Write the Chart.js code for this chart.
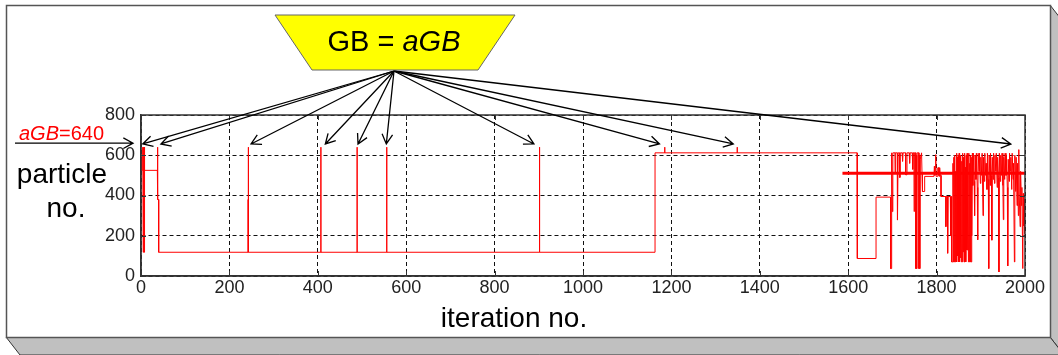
<!DOCTYPE html>
<html lang="en">
<head>
<meta charset="UTF-8">
<title>GB = aGB particle trace</title>
<script src="https://cdn.jsdelivr.net/npm/chart.js"></script>
<style>
  html, body { margin: 0; padding: 0; background: #fff; }
  #traceChart { display: block; }
</style>
</head>
<body>
<canvas id="traceChart" width="1058" height="355"></canvas>
<script>
  // [iteration, particle no.]: the long stable stretch
  const traceEarly = [
    [0,525],[0,590],[1,590],[1,525],[3,525],[4,640],[5,118],[6,640],[7,118],[8,640],[8,525],
    [37,525],[37,640],[38,640],[38,380],[40,380],[40,118],
    [242,118],[242,380],[243,380],[243,640],[243,118],
    [407,118],[407,640],[407,118],
    [489,118],[489,640],[489,118],
    [556,118],[556,640],[556,118],
    [901,118],[901,380],[902,380],[902,640],[902,118],
    [1163,118],[1163,612],[1185,612],[1185,640],[1185,612],
    [1349,612],[1349,640],[1349,612],
    [1620,612],[1620,345],[1621,345],[1621,87],[1663,87],[1663,392],[1696,392]
  ];

  // the noisy end of the run
  const traceLate = [
    [1696,37],[1697,37],[1697,392],[1699,392],[1699,612],[1700,320],[1701,612],
    [1706,612],[1706,510],[1707,612],[1711,612],[1711,353],[1712,278],[1713,612],
    [1716,612],[1716,490],[1718,490],[1718,612],[1722,612],[1723,570],[1724,612],
    [1730,612],[1730,503],[1733,503],[1733,612],[1738,612],[1739,560],[1740,612],
    [1745,612],[1746,530],[1747,612],[1749,612],[1749,320],[1750,612],
    [1753,612],[1753,37],[1754,600],[1755,37],[1756,612],[1760,612],[1760,37],
    [1761,600],[1762,37],[1763,580],[1766,612],[1767,510],[1768,420],[1773,420],
    [1773,495],[1794,495],[1795,545],[1796,500],[1797,545],[1798,603],[1799,495],
    [1802,495],[1803,538],[1804,500],[1805,540],[1806,495],[1807,538],[1808,500],
    [1810,500],[1810,395],[1821,395],[1821,245],[1822,395],[1825,395],[1825,113],
    [1826,395],[1831,395],[1832,200],[1833,395],[1834,70],
    [1836,70],[1837,560],[1838,70],[1839,590],[1840,70],[1841,600],[1842,70],
    [1843,520],[1844,80],[1845,610],[1846,70],[1847,590],[1848,100],[1849,600],
    [1850,70],[1851,610],[1852,70],[1853,588],[1854,90],[1855,600],[1856,70],
    [1857,570],[1858,70],[1859,610],[1860,120],[1861,590],[1862,70],[1863,610],
    [1864,70],[1865,540],[1866,70],[1867,600],[1868,130],[1869,610],[1870,128],
    [1871,580],[1872,70],[1873,610],[1874,70],[1875,560],[1876,70],[1877,600],
    [1878,70],[1879,590],[1880,200],[1881,610],
    [1882,450],[1883,610],[1885,470],[1886,300],[1887,600],[1889,480],[1890,610],
    [1892,440],[1893,180],[1894,610],[1896,520],[1897,610],[1899,460],[1900,590],
    [1902,500],[1903,610],[1905,300],[1906,590],[1908,470],[1909,610],[1911,500],
    [1912,560],[1914,430],[1915,610],[1917,480],[1918,37],[1919,600],[1921,450],
    [1922,610],[1924,500],[1925,178],[1926,590],[1928,480],[1929,610],[1931,460],
    [1932,600],[1934,520],[1935,610],[1937,440],[1938,590],[1940,490],[1941,20],
    [1942,610],[1944,470],[1945,600],[1947,500],[1948,610],[1950,450],[1951,280],
    [1952,590],[1954,480],[1955,610],[1957,500],[1958,600],[1960,440],[1961,50],
    [1962,580],[1964,470],[1965,610],[1967,520],[1968,590],[1970,430],[1971,610],
    [1973,480],[1974,560],[1976,70],[1977,600],[1979,420],[1980,590],[1982,350],
    [1983,560],[1985,300],[1986,628],[1987,400],[1989,245],[1990,520],[1992,350],
    [1993,440],[1995,37],[1996,410],[1997,250],[1998,380],[1999,212],[2000,300]
  ];

  const meanIter = [1587, 2000];
  const meanLevel = [510, 510];

  const xTicks = [0, 200, 400, 600, 800, 1000, 1200, 1400, 1600, 1800, 2000];
  const yTicks = [0, 200, 400, 600, 800];

  // where the arrows from the "GB = aGB" box land (iteration, value)
  const arrowIters = [4, 45, 249, 417, 491, 555, 889, 1173, 1340, 1968];
  const arrowValue = 656;
  const aGBValue = 660;

  const FONT = 'Arial, "Liberation Sans", sans-serif';

  function drawArrow(ctx, x0, y0, x1, y1) {
    const ang = Math.atan2(y1 - y0, x1 - x0);
    const len = 11, spread = 0.5;
    ctx.beginPath();
    ctx.moveTo(x0, y0);
    ctx.lineTo(x1, y1);
    ctx.moveTo(x1 - len * Math.cos(ang - spread), y1 - len * Math.sin(ang - spread));
    ctx.lineTo(x1, y1);
    ctx.lineTo(x1 - len * Math.cos(ang + spread), y1 - len * Math.sin(ang + spread));
    ctx.stroke();
  }

  // text made of pieces with different style, centred or left aligned
  function drawRich(ctx, parts, x, y, size, color, align) {
    let total = 0;
    parts.forEach(p => {
      ctx.font = (p.italic ? 'italic ' : '') + size + 'px ' + FONT;
      p.w = ctx.measureText(p.text).width;
      total += p.w;
    });
    let cx = align === 'center' ? x - total / 2 : x;
    ctx.fillStyle = color;
    ctx.textBaseline = 'alphabetic';
    ctx.textAlign = 'left';
    parts.forEach(p => {
      ctx.font = (p.italic ? 'italic ' : '') + size + 'px ' + FONT;
      ctx.fillText(p.text, cx, y);
      cx += p.w;
    });
  }

  const decor = {
    id: 'decor',
    beforeDraw(chart) {
      const ctx = chart.ctx;
      ctx.save();
      ctx.fillStyle = '#fff';
      ctx.fillRect(0, 0, chart.width, chart.height);
      // 3D box sides
      ctx.fillStyle = '#c0c0c0';
      ctx.strokeStyle = '#333';
      ctx.lineWidth = 1;
      ctx.beginPath();
      ctx.moveTo(1050, 5); ctx.lineTo(1064, 23); ctx.lineTo(1064, 355); ctx.lineTo(1050, 337);
      ctx.closePath();
      ctx.fill(); ctx.stroke();
      ctx.beginPath();
      ctx.moveTo(6, 337); ctx.lineTo(1050, 337); ctx.lineTo(1064, 355); ctx.lineTo(20, 355);
      ctx.closePath();
      ctx.fill(); ctx.stroke();
      // front face
      ctx.fillStyle = '#fff';
      ctx.fillRect(6.5, 5.5, 1044, 332);
      ctx.strokeStyle = '#555';
      ctx.lineWidth = 1.5;
      ctx.strokeRect(6.5, 5.5, 1044, 332);
      ctx.restore();
    },
    afterDraw(chart) {
      const {ctx, chartArea: a, scales: {x, y}} = chart;
      ctx.save();
      // closed plot box with inward ticks
      ctx.setLineDash([]);
      ctx.strokeStyle = '#333';
      ctx.lineWidth = 1.5;
      ctx.strokeRect(a.left, a.top, a.right - a.left, a.bottom - a.top);
      ctx.lineWidth = 1;
      ctx.beginPath();
      xTicks.forEach(v => {
        const px = Math.round(x.getPixelForValue(v)) + 0.5;
        ctx.moveTo(px, a.bottom); ctx.lineTo(px, a.bottom - 5);
        ctx.moveTo(px, a.top); ctx.lineTo(px, a.top + 5);
      });
      yTicks.forEach(v => {
        const py = Math.round(y.getPixelForValue(v)) + 0.5;
        ctx.moveTo(a.left, py); ctx.lineTo(a.left + 5, py);
        ctx.moveTo(a.right, py); ctx.lineTo(a.right - 5, py);
      });
      ctx.stroke();

      // arrows from the GB box to the aGB spikes
      ctx.strokeStyle = '#000';
      ctx.lineWidth = 1.3;
      const ox = 394, oy = 71;
      arrowIters.forEach(it => {
        drawArrow(ctx, ox, oy, x.getPixelForValue(it), y.getPixelForValue(arrowValue));
      });

      // GB = aGB box
      ctx.beginPath();
      ctx.moveTo(275, 15); ctx.lineTo(515, 15); ctx.lineTo(478, 70); ctx.lineTo(312, 70);
      ctx.closePath();
      ctx.fillStyle = '#ffff00';
      ctx.fill();
      ctx.strokeStyle = '#666';
      ctx.lineWidth = 1;
      ctx.stroke();
      drawRich(ctx, [{text: 'GB = '}, {text: 'aGB', italic: true}], 394, 51, 29, '#000', 'center');

      // aGB level marker on the left
      const gy = y.getPixelForValue(aGBValue);
      ctx.strokeStyle = '#000';
      ctx.lineWidth = 1.3;
      drawArrow(ctx, 15, gy, 133, gy);
      drawRich(ctx, [{text: 'aGB', italic: true}, {text: '=640'}], 19, gy - 3, 20, '#ff0000', 'left');

      // axis names
      drawRich(ctx, [{text: 'particle'}], 62, 183, 28, '#000', 'center');
      drawRich(ctx, [{text: 'no.'}], 66, 217, 28, '#000', 'center');
      drawRich(ctx, [{text: 'iteration no.'}], 514, 327, 28, '#000', 'center');
      ctx.restore();
    }
  };

  const data = {
    datasets: [
      {
        data: traceEarly.concat(traceLate).map(([it, p]) => ({x: it, y: p})),
        borderColor: '#ff0000',
        borderWidth: 1,
        borderJoinStyle: 'bevel',
        pointRadius: 0,
        tension: 0,
        fill: false
      },
      {
        data: meanIter.map((it, i) => ({x: it, y: meanLevel[i]})),
        borderColor: '#ff0000',
        borderWidth: 3,
        pointRadius: 0,
        fill: false
      }
    ]
  };

  const config = {
    type: 'line',
    data: data,
    options: {
      responsive: false,
      animation: false,
      layout: { padding: { top: 115, right: 33, left: 0, bottom: 0 } },
      plugins: { legend: { display: false }, tooltip: { enabled: false } },
      scales: {
        x: {
          type: 'linear',
          min: 0,
          max: 2000,
          afterBuildTicks: s => { s.ticks = xTicks.map(v => ({value: v})); },
          afterFit: s => { s.height = 79; },
          ticks: {
            font: { family: FONT, size: 18 }, color: '#222', padding: 1, maxRotation: 0,
            callback: v => String(v)
          },
          grid: { color: '#111', lineWidth: 1, drawTicks: false },
          border: { color: '#333', width: 1.5, dash: [4, 3] }
        },
        y: {
          min: 0,
          max: 800,
          afterBuildTicks: s => { s.ticks = yTicks.map(v => ({value: v})); },
          afterFit: s => { s.width = 141; },
          ticks: { font: { family: FONT, size: 18 }, color: '#222', padding: 6, callback: v => String(v) },
          grid: { color: '#111', lineWidth: 1, drawTicks: false },
          border: { color: '#333', width: 1.5, dash: [4, 3] }
        }
      }
    },
    plugins: [decor]
  };

  const ctx = document.getElementById('traceChart').getContext('2d');
  new Chart(ctx, config);
</script>
</body>
</html>
